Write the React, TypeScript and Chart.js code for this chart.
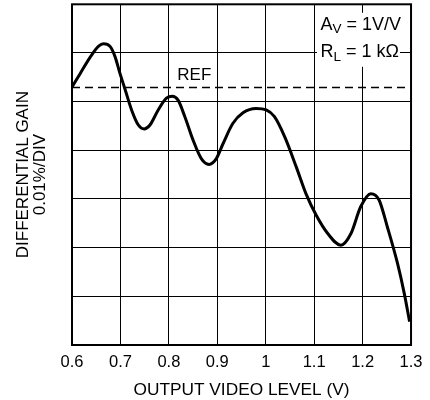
import React, { useEffect, useRef } from "react";
import { Chart, registerables } from "chart.js";

Chart.register(...registerables);

// Output video level (V)
const xValues = [
  0.6, 0.617, 0.638, 0.655, 0.665, 0.679, 0.689, 0.699, 0.709, 0.723, 0.737, 0.749, 0.761,
  0.778, 0.795, 0.807, 0.819, 0.833, 0.85, 0.867, 0.883, 0.898, 0.912, 0.932, 0.953, 0.98,
  1.001, 1.018, 1.039, 1.063, 1.083, 1.104, 1.128, 1.155, 1.176, 1.196, 1.217, 1.234, 1.251,
  1.272, 1.286, 1.297,
];
// Differential gain, in divisions of 0.01%
const gainValues = [
  5.3, 5.58, 5.92, 6.14, 6.19, 6.13, 5.92, 5.58, 5.27, 4.83, 4.52, 4.44, 4.52,
  4.83, 5.07, 5.11, 5.03, 4.69, 4.21, 3.83, 3.71, 3.83, 4.14, 4.55, 4.77, 4.86,
  4.83, 4.69, 4.28, 3.66, 3.11, 2.67, 2.29, 2.05, 2.29, 2.84, 3.11, 2.98, 2.43,
  1.68, 1.06, 0.48,
];
const refLevel = 5.29;
const xMin = 0.6;
const xMax = 1.3;
const xStep = 0.1;
const yMin = 0;
const yMax = 7;

const FAMILY = "'Liberation Sans', Arial, Helvetica, sans-serif";

export default function App() {
  const ref = useRef<HTMLCanvasElement>(null);

  useEffect(() => {
    const canvas = ref.current;
    if (!canvas) return;

    const annot = {
      id: "annot",
      afterDraw(chart: any) {
        const { ctx, chartArea: a, scales } = chart;
        ctx.save();
        // border
        ctx.strokeStyle = "#000";
        ctx.lineWidth = 2;
        ctx.strokeRect(a.left, a.top, a.right - a.left, a.bottom - a.top);

        // white box behind conditions
        ctx.fillStyle = "#fff";
        ctx.fillRect(a.right - 94, a.top + 8.5, 83, 54);

        ctx.fillStyle = "#000";
        ctx.textBaseline = "alphabetic";
        ctx.textAlign = "left";
        const big = `18px ${FAMILY}`;
        const small = `13.5px ${FAMILY}`;
        const drawRow = (x: number, y: number, main: string, sub: string, rest: string) => {
          ctx.font = big;
          ctx.fillText(main, x, y);
          x += ctx.measureText(main).width;
          ctx.font = small;
          ctx.fillText(sub, x, y + 3.7);
          x += ctx.measureText(sub).width;
          ctx.font = big;
          ctx.fillText(rest, x, y);
        };
        drawRow(a.right - 90.5, a.top + 25.3, "A", "V", " = 1V/V");
        drawRow(a.right - 90.5, a.top + 52.7, "R", "L", " = 1 k\u03A9");

        // REF label
        ctx.font = `17px ${FAMILY}`;
        const rx = scales.x.getPixelForValue(0.8) + 8.4;
        const ry = scales.y.getPixelForValue(refLevel) - 8;
        ctx.fillText("REF", rx, ry);
        ctx.restore();
      },
    };

    const chart = new Chart(canvas, {
      type: "line",
      data: {
        datasets: [
          {
            data: xValues.map((x, i) => ({ x, y: gainValues[i] })),
            borderColor: "#000",
            borderWidth: 3,
            pointRadius: 0,
            cubicInterpolationMode: "monotone",
            fill: false,
          },
          {
            data: [
              { x: xMin, y: refLevel },
              { x: xMax, y: refLevel },
            ],
            borderColor: "#000",
            borderWidth: 1.5,
            borderDash: [8, 5],
            pointRadius: 0,
            fill: false,
          },
        ],
      },
      options: {
        animation: false,
        responsive: false,
        events: [],
        layout: { padding: { top: 4.3, right: 18, left: 0, bottom: 0 } },
        plugins: { legend: { display: false }, tooltip: { enabled: false } },
        scales: {
          x: {
            type: "linear",
            min: xMin,
            max: xMax,
            ticks: {
              stepSize: xStep,
              callback: (v: any) => String(Number(Number(v).toFixed(1))),
              font: { family: FAMILY, size: 16.5 },
              color: "#000",
              padding: 7.5,
              maxRotation: 0,
              autoSkip: false,
            },
            grid: { color: "#000", lineWidth: 1, drawTicks: false },
            border: { display: false },
            title: {
              display: true,
              text: "OUTPUT VIDEO LEVEL (V)",
              font: { family: FAMILY, size: 17.3 },
              color: "#000",
              padding: { top: 0, bottom: -1 },
            },
            afterFit: (s: any) => {
              s.height = 55;
            },
          },
          y: {
            type: "linear",
            min: yMin,
            max: yMax,
            ticks: { stepSize: 1, display: false },
            grid: { color: "#000", lineWidth: 1, drawTicks: false },
            border: { display: false },
            title: {
              display: true,
              text: ["DIFFERENTIAL GAIN", "0.01%/DIV"],
              font: { family: FAMILY, size: 17, lineHeight: "17px" },
              color: "#000",
              padding: { top: 15, bottom: 0 },
            },
            afterFit: (s: any) => {
              s.width = 72;
            },
          },
        },
      } as any,
      plugins: [annot],
    });
    return () => chart.destroy();
  }, []);

  return (
    <div style={{ position: "absolute", left: 0, top: 0, width: 430, height: 400, background: "#fff" }}>
      <canvas ref={ref} width={430} height={400} style={{ display: "block" }} />
    </div>
  );
}
